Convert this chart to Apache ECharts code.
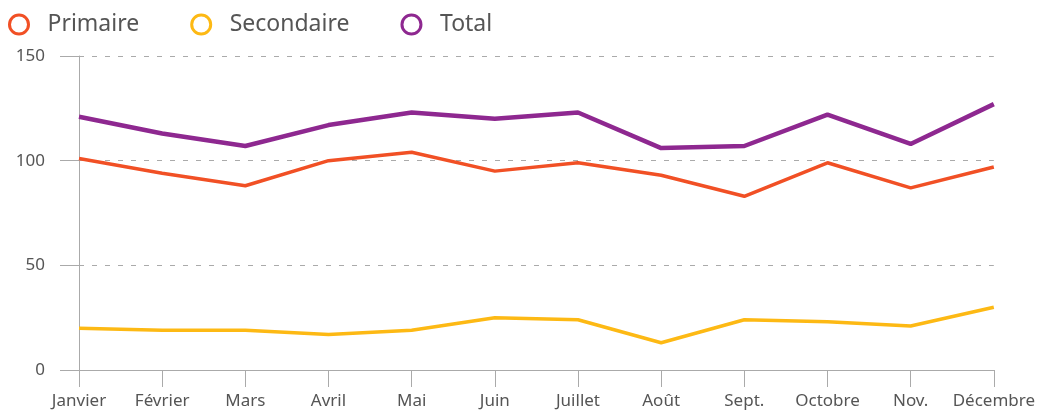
<!DOCTYPE html>
<html>
<head>
<meta charset="utf-8">
<script src="https://cdn.jsdelivr.net/npm/echarts@6/dist/echarts.min.js"></script>
<style>
html, body { margin: 0; padding: 0; background: #fff; }
#chart { width: 1038px; height: 412px; }
</style>
</head>
<body>
<div id="chart"></div>
<script>
var months = ['Janvier', 'Février', 'Mars', 'Avril', 'Mai', 'Juin', 'Juillet', 'Août', 'Sept.', 'Octobre', 'Nov.', 'Décembre'];
var primaire = [101, 94, 88, 100, 104, 95, 99, 93, 83, 99, 87, 97];
var secondaire = [20, 19, 19, 17, 19, 25, 24, 13, 24, 23, 21, 30];
var total = [121, 113, 107, 117, 123, 120, 123, 106, 107, 122, 108, 127];

var colors = {
    primaire: '#F15025',
    secondaire: '#FDB914',
    total: '#8E2890'
};
var fontFamily = '"Noto Sans", sans-serif';
var axisColor = '#aaa';

var myChart = echarts.init(document.getElementById('chart'));

function legendItem(name, color) {
    return {
        name: name,
        icon: 'circle',
        itemStyle: { color: '#fff', borderColor: color, borderWidth: 3 }
    };
}

var option = {
    animation: false,
    legend: {
        left: 3,
        top: 8,
        itemWidth: 19,
        itemHeight: 19,
        itemGap: 51,
        data: [
            legendItem('Primaire', colors.primaire),
            legendItem('Secondaire', colors.secondaire),
            legendItem('Total', colors.total)
        ],
        textStyle: {
            fontSize: 23,
            color: '#555',
            fontFamily: fontFamily,
            padding: [0, 0, 0, 14]
        }
    },
    grid: {
        left: 79,
        right: 43,
        top: 56,
        bottom: 42
    },
    xAxis: {
        type: 'category',
        boundaryGap: false,
        data: months,
        axisLine: { lineStyle: { color: axisColor, width: 1 } },
        axisTick: { show: true, length: 17, interval: 0, lineStyle: { color: axisColor } },
        axisLabel: {
            interval: 0,
            margin: 23,
            fontSize: 17,
            color: '#555',
            fontFamily: fontFamily
        },
        splitLine: { show: false }
    },
    yAxis: {
        type: 'value',
        min: 0,
        max: 150,
        interval: 50,
        axisLine: { show: true, lineStyle: { color: axisColor, width: 1 } },
        axisTick: { show: true, length: 19, lineStyle: { color: axisColor } },
        axisLabel: {
            margin: 34,
            fontSize: 17,
            color: '#555',
            fontFamily: fontFamily
        },
        splitLine: {
            show: true,
            lineStyle: { color: axisColor, type: [5, 8], width: 1 }
        }
    },
    series: [{
        name: 'Primaire',
        type: 'line',
        data: primaire,
        showSymbol: false,
        itemStyle: { color: colors.primaire },
        lineStyle: { color: colors.primaire, width: 3.5 },
        z: 3
    }, {
        name: 'Secondaire',
        type: 'line',
        data: secondaire,
        showSymbol: false,
        itemStyle: { color: colors.secondaire },
        lineStyle: { color: colors.secondaire, width: 3.5 },
        z: 3
    }, {
        name: 'Total',
        type: 'line',
        data: total,
        showSymbol: false,
        itemStyle: { color: colors.total },
        lineStyle: { color: colors.total, width: 4.5 },
        z: 3
    }]
};

myChart.setOption(option);
</script>
</body>
</html>
